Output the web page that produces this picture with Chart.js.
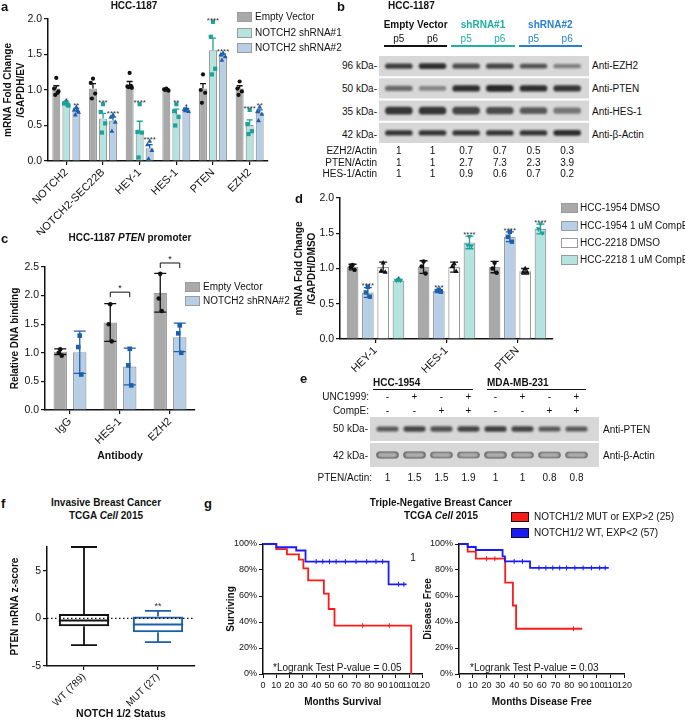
<!DOCTYPE html>
<html>
<head>
<meta charset="utf-8">
<script src="https://cdn.jsdelivr.net/npm/chart.js@4.4.1/dist/chart.umd.min.js"></script>
<style>
body { margin: 0; background: #fff; }
#fig { position: relative; width: 685px; height: 720px; overflow: hidden; font-family: "Liberation Sans", Arial, sans-serif; color: #111; }
#fig canvas { position: absolute; }
.t { position: absolute; white-space: nowrap; font-size: 10px; line-height: 1; }
.bx { position: absolute; box-sizing: border-box; }
</style>
</head>
<body>
<div id="fig"></div>
<script>
// --- colours ---
const INK = '#111', GRAY = '#a9a9a9', EDGE = '#9b9b9b';
const TEAL_FILL = '#b5e3de', BLUE_FILL = '#b7cfe6', TEAL = '#1ba39a', BLUE = '#1d5fab';

// --- panel a: HCC-1187 qPCR ---
const aGenes = ['NOTCH2', 'NOTCH2-SEC22B', 'HEY-1', 'HES-1', 'PTEN', 'EZH2'];
const aEV = [1.02, 1.02, 1.07, 1.01, 1.02, 1.02];
const aSh1 = [0.81, 0.60, 0.41, 0.66, 1.56, 0.51];
const aSh2 = [0.71, 0.57, 0.18, 0.72, 1.48, 0.68];
const aEVerr = [0.04, 0.07, 0.05, 0.01, 0.07, 0.04];
const aSh1err = [0.02, 0.07, 0.15, 0.07, 0.17, 0.07];
const aSh2err = [0.03, 0.05, 0.05, 0.02, 0.03, 0.04];
const aEVpts = [[1.17, 1.02, 0.98, 0.93, 0.96], [1.16, 1.10, 0.95, 0.88], [1.24, 1.05, 1.03, 1.04, 1.06], [1.02, 1.01, 0.99, 1.0], [1.22, 1.0, 0.96, 0.82], [1.12, 1.02, 0.98, 0.93]];
const aSh1pts = [[0.83, 0.81, 0.78, 0.82, 0.79], [0.80, 0.69, 0.53, 0.40], [0.80, 0.41, 0.40, 0.05], [0.80, 0.70, 0.62, 0.50], [1.96, 1.75, 1.30, 1.22], [0.72, 0.52, 0.42, 0.38]];
const aSh2pts = [[0.76, 0.72, 0.69, 0.65, 0.71], [0.65, 0.62, 0.55, 0.42], [0.28, 0.23, 0.15, 0.03], [0.74, 0.73, 0.70, 0.71], [1.52, 1.50, 1.47, 1.42], [0.76, 0.70, 0.66, 0.57]];
const aSh1stars = ['*', '***', '****', '**', '****', '****'];
const aSh2stars = ['**', '****', '****', '*', '****', '**'];
const aLegend = ['Empty Vector', 'NOTCH2 shRNA#1', 'NOTCH2 shRNA#2'];

// --- panel b: western blot HCC-1187 ---
const bLanes = ['p5', 'p6', 'p5', 'p6', 'p5', 'p6'];
const bEZH2 = [0.8, 0.9, 0.7, 0.75, 0.65, 0.35];
const bPTEN = [0.5, 0.3, 0.9, 0.95, 0.9, 0.85];
const bHES1 = [0.85, 0.85, 0.75, 0.7, 0.6, 0.4];
const bActin = [0.85, 0.85, 0.85, 0.85, 0.85, 0.9];
const bEzh2Ratio = ['1', '1', '0.7', '0.7', '0.5', '0.3'];
const bPtenRatio = ['1', '1', '2.7', '7.3', '2.3', '3.9'];
const bHes1Ratio = ['1', '1', '0.9', '0.6', '0.7', '0.2'];

// --- panel c: ChIP PTEN promoter ---
const cAb = ['IgG', 'HES-1', 'EZH2'];
const cEV = [1.02, 1.53, 2.05];
const cEVsd = [0.05, 0.33, 0.34];
const cEVpts = [[1.06, 1.0, 0.95], [1.85, 1.5, 1.2], [2.38, 1.95, 1.73]];
const cSh2 = [1.01, 0.76, 1.27];
const cSh2sd = [0.37, 0.32, 0.25];
const cSh2pts = [[1.3, 1.1, 0.62], [1.07, 0.78, 0.43], [1.48, 1.34, 1.0]];
const cBracket = [null, 2.06, 2.57];

// --- panel d: CompE qPCR ---
const dGenes = ['HEY-1', 'HES-1', 'PTEN'];
const d1954D = [1.02, 1.02, 1.02], d1954Derr = [0.04, 0.09, 0.08];
const d1954C = [0.66, 0.68, 1.45], d1954Cerr = [0.07, 0.02, 0.07];
const d2218D = [1.02, 1.02, 0.96], d2218Derr = [0.07, 0.07, 0.04];
const d2218C = [0.83, 1.37, 1.56], d2218Cerr = [0.01, 0.09, 0.07];
const d1954Dpts = [[1.05, 1.02, 0.98], [1.1, 1.03, 0.93], [1.08, 1.0, 0.94]];
const d1954Cpts = [[0.74, 0.66, 0.60], [0.70, 0.68, 0.67], [1.52, 1.45, 1.38]];
const d2218Dpts = [[1.08, 0.97, 0.95], [1.07, 1.03, 0.96], [1.0, 0.95, 0.95]];
const d2218Cpts = [[0.84, 0.83, 0.83], [1.45, 1.33, 1.32], [1.63, 1.56, 1.5]];
const d1954Cstars = ['****', '***', '****'];
const d2218Cstars = ['*', '****', '****'];
const dLegend = ['HCC-1954 DMSO', 'HCC-1954 1 uM CompE', 'HCC-2218 DMSO', 'HCC-2218 1 uM CompE'];

// --- panel e: western blot CompE / UNC1999 ---
const eUNC = ['-', '+', '-', '+', '-', '+', '-', '+'];
const eCompE = ['-', '-', '+', '+', '-', '-', '+', '+'];
const ePTEN = [0.6, 0.75, 0.65, 0.75, 0.8, 0.75, 0.6, 0.6];
const eActin = [0.85, 0.85, 0.8, 0.8, 0.85, 0.8, 0.8, 0.8];
const eRatio = ['1', '1.5', '1.5', '1.9', '1', '1', '0.8', '0.8'];

// --- panel f: box plot ---
const fGroups = ['WT (789)', 'MUT (27)'];
const fMin = [-2.8, -2.5];
const fQ1 = [-0.82, -1.45];
const fMed = [-0.22, -0.65];
const fQ3 = [0.47, 0.2];
const fMax = [7.5, 0.78];
const fStars = ['', '**'];

// --- panel g: Kaplan-Meier ---
const osRedT = [0, 10, 18, 27, 30.4, 34, 45.8, 49.4, 53.8, 111.5];
const osRedS = [100, 96, 92, 88, 81.3, 72, 61.8, 50, 37.2, 0];
const osRedCens = [75, 95];
const osBlueT = [0, 10, 25, 32, 94.5, 108];
const osBlueS = [100, 97.5, 95, 86.5, 69, 69];
const osBlueCens = [40, 45, 50, 55, 62, 70, 78, 85, 90, 102, 106];
const dfsRedT = [0, 6.3, 12.2, 33.5, 39.1, 41.4, 89.4];
const dfsRedS = [100, 94.2, 88.7, 70.3, 52.7, 34.8, 34.8];
const dfsRedCens = [20, 26, 83];
const dfsBlueT = [0, 6.3, 12.2, 31.6, 33.3, 51.5, 108.6];
const dfsBlueS = [100, 97.7, 95.4, 90.5, 86.6, 81.6, 81.6];
const dfsBlueCens = [40, 46, 58, 63, 68, 73, 78, 84, 90, 96, 102, 106];

Chart.defaults.font.family = '"Liberation Sans", Arial, sans-serif';
Chart.defaults.font.size = 10.5;
Chart.defaults.color = INK;
Chart.defaults.animation = false;
Chart.defaults.events = [];
Chart.defaults.plugins.legend.display = false;
Chart.defaults.plugins.tooltip.enabled = false;

const fig = document.getElementById('fig');

function mkCanvas(x, y, w, h) {
    const c = document.createElement('canvas');
    c.width = w; c.height = h;
    c.style.left = x + 'px'; c.style.top = y + 'px';
    c.style.width = w + 'px'; c.style.height = h + 'px';
    fig.appendChild(c);
    return c;
}

function txt(x, y, html, align, css) {
    const d = document.createElement('div');
    d.className = 't';
    if (css) d.style.cssText = css;
    d.innerHTML = html;
    d.style.left = x + 'px';
    d.style.top = y + 'px';
    d.style.transform = 'translate(' + (align === 'c' ? '-50%' : align === 'r' ? '-100%' : '0') + ',-50%)';
    fig.appendChild(d);
    return d;
}

function box(x, y, w, h, css) {
    const d = document.createElement('div');
    d.className = 'bx';
    d.style.cssText = css;
    Object.assign(d.style, { left: x + 'px', top: y + 'px', width: w + 'px', height: h + 'px' });
    fig.appendChild(d);
}

function marker(ctx, shape, x, y, r, col) {
    ctx.fillStyle = col;
    ctx.beginPath();
    if (shape === 'circle') ctx.arc(x, y, r, 0, Math.PI * 2);
    else if (shape === 'square') ctx.rect(x - r, y - r, 2 * r, 2 * r);
    else if (shape === 'tri') { ctx.moveTo(x, y - r * 1.3); ctx.lineTo(x + r * 1.15, y + r * 0.8); ctx.lineTo(x - r * 1.15, y + r * 0.8); ctx.closePath(); }
    else { ctx.moveTo(x, y + r * 1.3); ctx.lineTo(x + r * 1.15, y - r * 0.8); ctx.lineTo(x - r * 1.15, y - r * 0.8); ctx.closePath(); }
    ctx.fill();
}

const JIT = [0, -1, 1, -0.5, 0.6];

// error bars, dots, stars, brackets on top of bars
const barExtras = {
    id: 'extras',
    afterDatasetsDraw(chart, args, o) {
        const ctx = chart.ctx, ys = chart.scales.y;
        chart.data.datasets.forEach((ds, di) => {
            if (!ds.err) return;
            chart.getDatasetMeta(di).data.forEach((bar, i) => {
                const x = bar.x, m = ds.data[i], e = ds.err[i];
                const yT = ys.getPixelForValue(m + e);
                const yB = ys.getPixelForValue(o.both ? m - e : m);
                ctx.save();
                ctx.strokeStyle = ds.ptColor;
                ctx.lineWidth = 1.3;
                ctx.beginPath();
                ctx.moveTo(x, yB); ctx.lineTo(x, yT);
                ctx.moveTo(x - o.cap, yT); ctx.lineTo(x + o.cap, yT);
                if (o.both) { ctx.moveTo(x - o.cap, yB); ctx.lineTo(x + o.cap, yB); }
                ctx.stroke();
                let top = yT;
                ds.pts[i].forEach((v, k) => {
                    const py = ys.getPixelForValue(v);
                    top = Math.min(top, py);
                    marker(ctx, ds.shape, x + JIT[k % JIT.length] * o.jitter, py, o.r, ds.ptColor);
                });
                if (ds.stars && ds.stars[i]) {
                    ctx.fillStyle = '#333';
                    ctx.font = '8px "Liberation Sans", Arial';
                    ctx.textAlign = 'center';
                    ctx.fillText(ds.stars[i], x, top - o.r + 3);
                }
                ctx.restore();
            });
        });
        if (o.brackets) {
            const m0 = chart.getDatasetMeta(0).data, m1 = chart.getDatasetMeta(1).data;
            o.brackets.forEach((b, i) => {
                if (b == null) return;
                const y = ys.getPixelForValue(b), x0 = m0[i].x, x1 = m1[i].x;
                ctx.save();
                ctx.strokeStyle = INK; ctx.lineWidth = 1;
                ctx.beginPath();
                ctx.moveTo(x0, y + 5); ctx.lineTo(x0, y); ctx.lineTo(x1, y); ctx.lineTo(x1, y + 5);
                ctx.stroke();
                ctx.fillStyle = INK; ctx.font = '9px "Liberation Sans", Arial'; ctx.textAlign = 'center';
                ctx.fillText('*', (x0 + x1) / 2, y - 1);
                ctx.restore();
            });
        }
    }
};

function barSet(data, fill, err, pts, shape, col, stars) {
    return { data, backgroundColor: fill, borderColor: EDGE, borderWidth: 1.2, err, pts, shape, ptColor: col, stars };
}

function yLin(min, max, step, width, title, tpad, dec) {
    return {
        min, max,
        ticks: { stepSize: step, padding: 2, includeBounds: false, callback: v => v.toFixed(dec) },
        grid: { drawOnChartArea: false, color: INK, tickLength: 4, lineWidth: 1.2 },
        border: { color: INK, width: 1.5 },
        title: { display: true, text: title, color: INK, font: { weight: 'bold', size: 10, lineHeight: 1.3 }, padding: { top: tpad, bottom: 0 } },
        afterFit: s => { s.width = width; }
    };
}

function xCat(height, title, size) {
    return {
        ticks: { autoSkip: false, minRotation: 45, maxRotation: 45, padding: 1, font: { size: size || 11 } },
        grid: { drawOnChartArea: false, offset: false, color: INK, tickLength: 4, lineWidth: 1.2 },
        border: { color: INK, width: 1.5 },
        title: { display: !!title, text: title || '', color: INK, font: { weight: 'bold', size: 10.5 }, padding: { top: 0, bottom: 0 } },
        afterFit: s => { s.height = height; }
    };
}

// ===== panel a =====
new Chart(mkCanvas(0, 0, 270, 235), {
    type: 'bar',
    data: {
        labels: aGenes,
        datasets: [
            barSet(aEV, GRAY, aEVerr, aEVpts, 'circle', INK, null),
            barSet(aSh1, TEAL_FILL, aSh1err, aSh1pts, 'square', TEAL, aSh1stars),
            barSet(aSh2, BLUE_FILL, aSh2err, aSh2pts, 'tri', BLUE, aSh2stars)
        ]
    },
    options: {
        responsive: false,
        layout: { padding: { top: 19, right: 2 } },
        datasets: { bar: { categoryPercentage: 0.82, barPercentage: 0.8 } },
        scales: { x: xCat(74), y: yLin(0, 2, 0.5, 48, ['mRNA Fold Change', '/GAPDH/EV'], 1.5, 1) },
        plugins: { extras: { cap: 3, r: 2.1, jitter: 2.2, both: false } }
    },
    plugins: [barExtras]
});
txt(1, 6, 'a', 'l', 'font-weight:bold;font-size:13px');
txt(134, 6, 'HCC-1187', 'c', 'font-weight:bold');
[GRAY, TEAL_FILL, BLUE_FILL].forEach((c, i) => {
    box(237, [17, 33, 48][i] - 5, 15, 10, 'background:' + c + ';border:1px solid ' + EDGE);
    txt(255, [17, 33, 48][i], aLegend[i], 'l');
});

// ===== panel c =====
new Chart(mkCanvas(0, 250, 197, 212), {
    type: 'bar',
    data: {
        labels: cAb,
        datasets: [
            barSet(cEV, GRAY, cEVsd, cEVpts, 'circle', INK, null),
            barSet(cSh2, BLUE_FILL, cSh2sd, cSh2pts, 'square', BLUE, null)
        ]
    },
    options: {
        responsive: false,
        layout: { padding: { top: 17, right: 2 } },
        datasets: { bar: { categoryPercentage: 0.78, barPercentage: 0.69 } },
        scales: { x: xCat(52, 'Antibody'), y: yLin(0, 2.5, 0.5, 45, 'Relative DNA binding', 9, 1) },
        plugins: { extras: { cap: 6, r: 2.3, jitter: 1.5, both: true, brackets: cBracket } }
    },
    plugins: [barExtras]
});
txt(1, 238, 'c', 'l', 'font-weight:bold;font-size:13px');
txt(130, 238, 'HCC-1187 <i>PTEN</i> promoter', 'c', 'font-weight:bold');
[GRAY, BLUE_FILL].forEach((c, i) => {
    box(185, [287, 301][i] - 5, 15, 10, 'background:' + c + ';border:1px solid ' + EDGE);
    txt(203, [287, 301][i], ['Empty Vector', 'NOTCH2 shRNA#2'][i], 'l');
});

// ===== panel d =====
new Chart(mkCanvas(290, 180, 265, 200), {
    type: 'bar',
    data: {
        labels: dGenes,
        datasets: [
            barSet(d1954D, GRAY, d1954Derr, d1954Dpts, 'circle', INK, null),
            barSet(d1954C, BLUE_FILL, d1954Cerr, d1954Cpts, 'square', BLUE, d1954Cstars),
            barSet(d2218D, '#ffffff', d2218Derr, d2218Dpts, 'tri', INK, null),
            barSet(d2218C, TEAL_FILL, d2218Cerr, d2218Cpts, 'itri', TEAL, d2218Cstars)
        ]
    },
    options: {
        responsive: false,
        layout: { padding: { top: 18, right: 2 } },
        datasets: { bar: { categoryPercentage: 0.862, barPercentage: 0.765 } },
        scales: { x: xCat(41), y: yLin(0, 2, 0.5, 50, ['mRNA Fold Change', '/GAPDH/DMSO'], 3, 1) },
        plugins: { extras: { cap: 4, r: 2.2, jitter: 2, both: true } }
    },
    plugins: [barExtras]
});
txt(295, 198, 'd', 'l', 'font-weight:bold;font-size:13px');
[GRAY, BLUE_FILL, '#fff', TEAL_FILL].forEach((c, i) => {
    const y = [208, 226, 243, 260][i];
    box(561, y - 5, 17, 10, 'background:' + c + ';border:1px solid ' + EDGE);
    txt(580, y, dLegend[i], 'l');
});

// ===== blots (b, e) =====
const blotPlugin = {
    id: 'blot',
    beforeDatasetsDraw(chart, args, o) {
        const ctx = chart.ctx, ys = chart.scales.y;
        ctx.save();
        for (let k = 0; k < o.rows; k++) {
            const y0 = ys.getPixelForValue(k), y1 = ys.getPixelForValue(k + 1);
            ctx.fillStyle = o.bg;
            ctx.fillRect(0, Math.min(y0, y1) + o.gap, chart.width, Math.abs(y1 - y0) - 2 * o.gap);
        }
        ctx.filter = 'blur(' + o.blur + 'px)';
    },
    afterDatasetsDraw(chart) { chart.ctx.restore(); }
};

function bandSet(vals, row, thick, hollow) {
    return {
        data: vals.map(v => { const h = thick * (0.55 + 0.45 * v) / 2; return [row + 0.5 - h, row + 0.5 + h]; }),
        backgroundColor: hollow ? '#a9a9a9' : vals.map(v => 'rgba(22,22,22,' + (0.2 + 0.75 * v).toFixed(2) + ')'),
        borderColor: hollow ? vals.map(v => 'rgba(20,20,20,' + v + ')') : 'rgba(0,0,0,0)',
        borderWidth: hollow ? 2 : 0,
        borderRadius: 4,
        borderSkipped: false,
        grouped: false,
        barPercentage: hollow ? 0.85 : 0.82,
        categoryPercentage: 1
    };
}

function blotChart(x, y, w, h, padL, padR, lanes, rows, sets) {
    return new Chart(mkCanvas(x, y, w, h), {
        type: 'bar',
        data: { labels: lanes, datasets: sets },
        options: {
            responsive: false,
            layout: { padding: { left: padL, right: padR } },
            scales: { x: { display: false }, y: { display: false, min: 0, max: rows, reverse: true } },
            plugins: { blot: { rows, gap: 1, bg: '#d7d7d7', blur: 0.9 } }
        },
        plugins: [blotPlugin]
    });
}

// panel b
const chB = blotChart(379, 55, 210, 89, 3, 5, bLanes, 4, [
    bandSet(bEZH2, 0, 0.26), bandSet(bPTEN, 1, 0.3), bandSet(bHES1, 2, 0.38), bandSet(bActin, 3, 0.26)
]);
const bX = bLanes.map((l, i) => 379 + chB.scales.x.getPixelForValue(i));
txt(337, 6, 'b', 'l', 'font-weight:bold;font-size:13px');
txt(388, 6, 'HCC-1187', 'l', 'font-weight:bold');
const bGrp = [['Empty Vector', INK], ['shRNA#1', '#1fb0a4'], ['shRNA#2', '#2a7fd0']];
bGrp.forEach((g, k) => {
    const x0 = bX[2 * k], x1 = bX[2 * k + 1];
    txt((x0 + x1) / 2, 25, g[0], 'c', 'font-weight:bold;color:' + g[1]);
    box(x0 - 15, 45, x1 - x0 + 30, 1.5, 'background:' + g[1]);
    txt(x0, 39, bLanes[2 * k], 'c', 'color:' + g[1]);
    txt(x1, 39, bLanes[2 * k + 1], 'c', 'color:' + g[1]);
});
[['96 kDa-', 'Anti-EZH2', 66], ['50 kDa-', 'Anti-PTEN', 89], ['35 kDa-', 'Anti-HES-1', 112], ['42 kDa-', 'Anti-β-Actin', 135]].forEach(r => {
    txt(377, r[2], r[0], 'r');
    txt(592, r[2], r[1], 'l');
});
[['EZH2/Actin', bEzh2Ratio, 151], ['PTEN/Actin', bPtenRatio, 163], ['HES-1/Actin', bHes1Ratio, 174]].forEach(r => {
    txt(377, r[2], r[0], 'r');
    r[1].forEach((v, i) => txt(bX[i], r[2], v, 'c'));
});

// panel e
const chE = blotChart(370, 416, 229, 52, 4, 9, eUNC, 2, [
    bandSet(ePTEN, 0, 0.24), bandSet(eActin, 1, 0.3, true)
]);
const eX = eUNC.map((l, i) => 370 + chE.scales.x.getPixelForValue(i));
txt(300, 378, 'e', 'l', 'font-weight:bold;font-size:13px');
txt(373, 383, 'HCC-1954', 'l', 'font-weight:bold');
box(373, 389, 100, 1.3, 'background:' + INK);
txt(487, 383, 'MDA-MB-231', 'l', 'font-weight:bold');
box(487, 389, 99, 1.3, 'background:' + INK);
txt(369, 397, 'UNC1999:', 'r');
txt(369, 411, 'CompE:', 'r');
eUNC.forEach((s, i) => { txt(eX[i], 397, s, 'c'); txt(eX[i], 411, eCompE[i], 'c'); });
txt(368, 429, '50 kDa-', 'r');
txt(368, 456, '42 kDa-', 'r');
txt(603, 430, 'Anti-PTEN', 'l');
txt(603, 456, 'Anti-β-Actin', 'l');
txt(372, 478, 'PTEN/Actin:', 'r');
eRatio.forEach((v, i) => txt(eX[i], 478, v, 'c'));

// ===== panel f =====
const boxExtras = {
    id: 'box',
    afterDatasetsDraw(chart) {
        const ctx = chart.ctx, ys = chart.scales.y, ca = chart.chartArea;
        const ds = chart.data.datasets[0];
        ctx.save();
        ctx.setLineDash([1.5, 2.5]);
        ctx.strokeStyle = INK; ctx.lineWidth = 1.3;
        const y0 = ys.getPixelForValue(0);
        ctx.beginPath(); ctx.moveTo(ca.left, y0); ctx.lineTo(ca.right, y0); ctx.stroke();
        ctx.setLineDash([]);
        chart.getDatasetMeta(0).data.forEach((bar, i) => {
            const x = bar.x, col = ds.borderColor[i], half = bar.width / 2;
            ctx.strokeStyle = col;
            ctx.lineWidth = 1.8;
            const pMin = ys.getPixelForValue(fMin[i]), pMax = ys.getPixelForValue(fMax[i]);
            const pQ1 = ys.getPixelForValue(fQ1[i]), pQ3 = ys.getPixelForValue(fQ3[i]);
            ctx.beginPath();
            ctx.moveTo(x, pQ3); ctx.lineTo(x, pMax);
            ctx.moveTo(x - 13, pMax); ctx.lineTo(x + 13, pMax);
            ctx.moveTo(x, pQ1); ctx.lineTo(x, pMin);
            ctx.moveTo(x - 13, pMin); ctx.lineTo(x + 13, pMin);
            ctx.stroke();
            ctx.lineWidth = 2;
            const pMed = ys.getPixelForValue(fMed[i]);
            ctx.beginPath(); ctx.moveTo(x - half, pMed); ctx.lineTo(x + half, pMed); ctx.stroke();
            if (fStars[i]) {
                ctx.fillStyle = '#333'; ctx.font = '9px "Liberation Sans", Arial'; ctx.textAlign = 'center';
                ctx.fillText(fStars[i], x, pMax - 2);
            }
        });
        ctx.restore();
    }
};
new Chart(mkCanvas(0, 530, 200, 190), {
    type: 'bar',
    data: {
        labels: fGroups,
        datasets: [{
            data: fQ1.map((q, i) => [q, fQ3[i]]),
            backgroundColor: 'rgba(255,255,255,0)',
            borderColor: [INK, BLUE],
            borderWidth: 2,
            borderSkipped: false,
            barPercentage: 0.68,
            categoryPercentage: 1
        }]
    },
    options: {
        responsive: false,
        layout: { padding: { top: 17, right: 5 } },
        scales: { x: xCat(54, 'NOTCH 1/2 Status', 10), y: yLin(-5, 7.5, 5, 47, 'PTEN mRNA z-score', 9, 0) }
    },
    plugins: [boxExtras]
});
txt(1, 503, 'f', 'l', 'font-weight:bold;font-size:13px');
txt(106, 503, 'Invasive Breast Cancer', 'c', 'font-weight:bold');
txt(106, 516, 'TCGA <i>Cell</i> 2015', 'c', 'font-weight:bold');

// ===== panel g =====
function levelAt(pts, t) {
    let v = pts[0].y;
    pts.forEach(p => { if (p.x <= t) v = p.y; });
    return v;
}
const kmExtras = {
    id: 'km',
    afterDatasetsDraw(chart) {
        const ctx = chart.ctx, xs = chart.scales.x, ys = chart.scales.y;
        chart.data.datasets.forEach(ds => {
            ctx.save();
            ctx.strokeStyle = ds.borderColor; ctx.lineWidth = 1;
            ctx.beginPath();
            ds.cens.forEach(t => {
                const x = xs.getPixelForValue(t), y = ys.getPixelForValue(levelAt(ds.data, t));
                ctx.moveTo(x, y - 2.5); ctx.lineTo(x, y + 2.5);
            });
            ctx.stroke();
            ctx.restore();
        });
    }
};
function kmSet(t, s, cens, col) {
    return { data: t.map((x, i) => ({ x, y: s[i] })), borderColor: col, borderWidth: 1.8, pointRadius: 0, stepped: true, fill: false, clip: false, cens };
}
function kmChart(left, width, yW, yTitle, yPad, xTitle, sets) {
    return new Chart(mkCanvas(left, 530, width, 190), {
        type: 'line',
        data: { datasets: sets },
        options: {
            responsive: false,
            layout: { padding: { top: 14, right: 4 } },
            scales: {
                x: {
                    type: 'linear', min: 0, max: 120,
                    ticks: { stepSize: 10, autoSkip: false, maxRotation: 0, font: { size: 9 }, padding: 2 },
                    grid: { drawOnChartArea: false, color: INK, tickLength: 4 },
                    border: { color: INK, width: 1.5 },
                    title: { display: true, text: xTitle, color: INK, font: { size: 10, weight: 'bold' }, padding: { top: 0, bottom: 12 } },
                    afterFit: s => { s.height = 46; }
                },
                y: {
                    min: 0, max: 100,
                    ticks: { stepSize: 10, font: { size: 9 }, padding: 2, callback: v => v + '%' },
                    grid: { drawOnChartArea: false, color: INK, tickLength: 4 },
                    border: { color: INK, width: 1.5 },
                    title: { display: true, text: yTitle, color: INK, font: { size: 10, weight: 'bold' }, padding: { top: yPad, bottom: 0 } },
                    afterFit: s => { s.width = yW; }
                }
            }
        },
        plugins: [kmExtras]
    });
}
kmChart(200, 232, 63, 'Surviving', 25, 'Months Survival', [
    kmSet(osBlueT, osBlueS, osBlueCens, '#1a1aff'), kmSet(osRedT, osRedS, osRedCens, '#ff1a1a')
]);
kmChart(400, 234, 59, 'Disease Free', 22, 'Months Disease Free', [
    kmSet(dfsBlueT, dfsBlueS, dfsBlueCens, '#1a1aff'), kmSet(dfsRedT, dfsRedS, dfsRedCens, '#ff1a1a')
]);
txt(204, 503, 'g', 'l', 'font-weight:bold;font-size:13px');
txt(441, 503, 'Triple-Negative Breast Cancer', 'c', 'font-weight:bold');
txt(441, 516, 'TCGA <i>Cell</i> 2015', 'c', 'font-weight:bold');
[['#ff1a1a', 'NOTCH1/2 MUT or EXP&gt;2 (25)', 517], ['#1a1aff', 'NOTCH1/2 WT, EXP&lt;2 (57)', 533]].forEach(l => {
    box(511, l[2] - 5, 18, 10, 'background:' + l[0] + ';border:1.5px solid #111');
    txt(534, l[2], l[1], 'l');
});
txt(413, 558, '1', 'c');
txt(273, 668, '*Logrank Test P-value = 0.05', 'l');
txt(470, 668, '*Logrank Test P-value = 0.03', 'l');
</script>
</body>
</html>
